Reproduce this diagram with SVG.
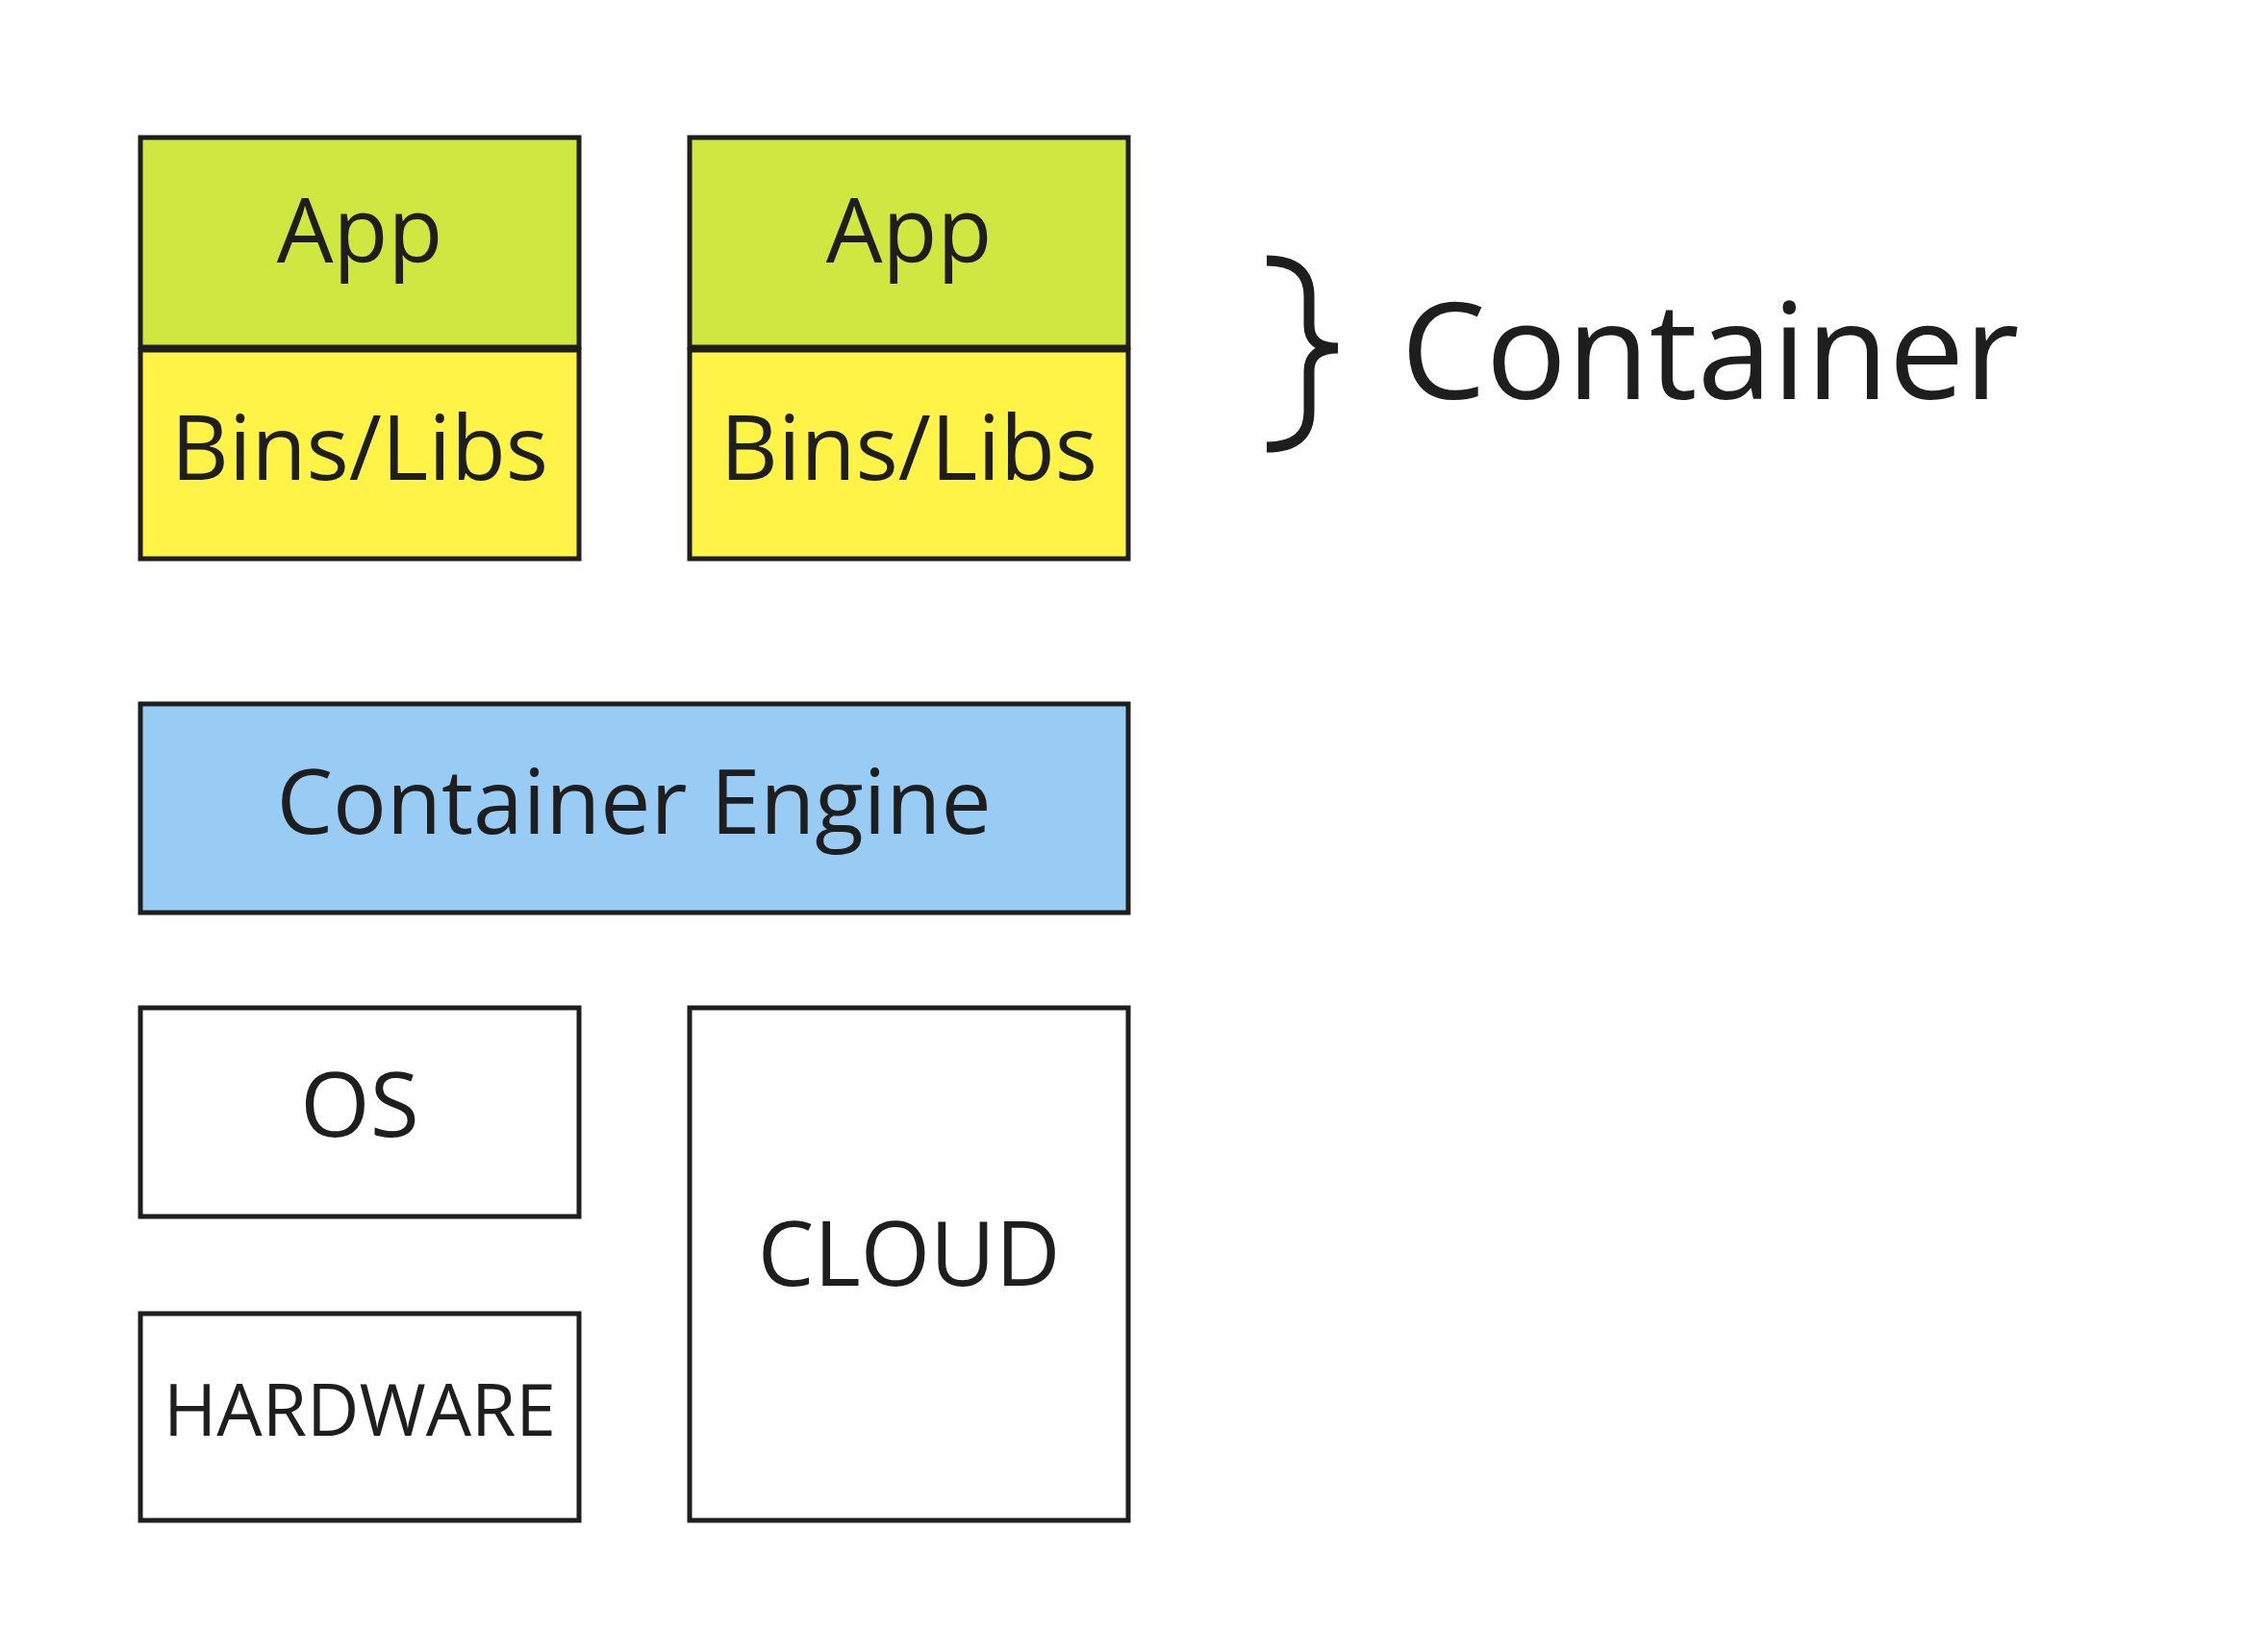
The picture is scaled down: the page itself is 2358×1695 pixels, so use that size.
<svg xmlns="http://www.w3.org/2000/svg" width="2358" height="1695" viewBox="0 0 2358 1695">
<style>
.box{stroke:#1e1e1e;stroke-width:5}
.t{font-family:"Open Sans","Noto Sans",sans-serif;fill:#1e1e1e;text-anchor:middle}
</style>
<rect width="2358" height="1695" fill="#ffffff"/>
<g id="app1"><rect class="box" x="146" y="143" width="456" height="218" fill="#cfe841"/><text class="t" x="374" y="273" font-size="93">App</text></g>
<g id="bins1"><rect class="box" x="146" y="364" width="456" height="217" fill="#fff347"/><text class="t" x="374" y="499" font-size="93">Bins/Libs</text></g>
<g id="app2"><rect class="box" x="717" y="143" width="456" height="218" fill="#cfe841"/><text class="t" x="945" y="273" font-size="93">App</text></g>
<g id="bins2"><rect class="box" x="717" y="364" width="456" height="217" fill="#fff347"/><text class="t" x="945" y="499" font-size="93">Bins/Libs</text></g>
<g id="engine"><rect class="box" x="146" y="732" width="1027" height="217" fill="#98ccf5"/><text class="t" x="659" y="867" font-size="93">Container Engine</text></g>
<g id="os"><rect class="box" x="146" y="1048" width="456" height="217" fill="#ffffff"/><text class="t" x="374" y="1182" font-size="93">OS</text></g>
<g id="hardware"><rect class="box" x="146" y="1366" width="456" height="215" fill="#ffffff"/><text class="t" x="374" y="1493" font-size="75">HARDWARE</text></g>
<g id="cloud"><rect class="box" x="717" y="1048" width="456" height="533" fill="#ffffff"/><text class="t" x="945" y="1337" font-size="93">CLOUD</text></g>
<g id="brace"><path d="M1317,271 Q1361,271 1361,308 L1361,338 Q1361,362 1391,362 Q1361,362 1361,386 L1361,428 Q1361,465 1317,465" fill="none" stroke="#1e1e1e" stroke-width="11"/></g>
<g id="container-label"><text class="t" x="1778" y="415" font-size="140">Container</text></g>
<g id="connectors"></g>
</svg>
